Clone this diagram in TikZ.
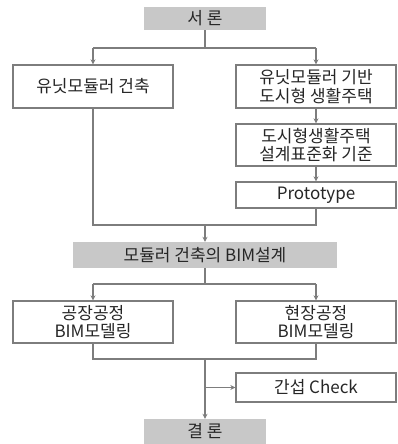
\documentclass[tikz,border=0pt]{standalone}
\usepackage{fontspec}
\setmainfont{Noto Sans CJK KR}
\usepackage{tikz}
\usetikzlibrary{positioning,arrows.meta}
\definecolor{boxgray}{RGB}{200,200,200}
\definecolor{linegray}{RGB}{125,125,125}
\tikzstyle{title}=[%
      rectangle, draw=none, fill=boxgray, text=black!85,
      minimum height=23pt, inner sep=1pt, align=center
]
\tikzstyle{box}=[%
      rectangle, draw=linegray, line width=1.3pt, fill=white, text=black!85,
      minimum width=160pt, inner sep=1pt, align=center
]
\tikzstyle{flow}=[%
      draw=linegray, line width=1.3pt
]

\begin{document}
\begin{tikzpicture}[x=1pt, y=-1pt,
    font=\fontsize{17}{18.5}\selectfont,
    >={Stealth[length=5pt,width=5pt]}
  ]
    \useasboundingbox (0,0) rectangle (397,444);

    \node[title, minimum width=122pt] (intro) at (205,18.5) {서 론};
    \node[box, minimum height=43pt] (unit) at (93,86.5) {유닛모듈러 건축};
    \node[box, minimum height=43pt] (base) at (316,86.5) {유닛모듈러 기반\\도시형 생활주택};
    \node[box, minimum height=42pt] (std) at (316,145) {도시형생활주택\\설계표준화 기준};
    \node[box, minimum height=26pt] (proto) at (316,195) {Prototype};
    \node[title, minimum width=264pt, minimum height=26pt] (bim) at (205,255) {모듈러 건축의 BIM설계};
    \node[box, minimum height=42pt] (factory) at (93,322) {공장공정\\BIM모델링};
    \node[box, minimum height=42pt] (site) at (316,322) {현장공정\\BIM모델링};
    \node[box, minimum height=29pt] (check) at (316,387.5) {간섭 Check};
    \node[title, minimum width=122pt, minimum height=25pt] (concl) at (205,431.5) {결 론};

    \coordinate (split1) at (205,48);
    \coordinate (merge1) at (205,225);
    \coordinate (split2) at (205,284);
    \coordinate (merge2) at (205,359);
    \coordinate (tap) at (205,387.5);

    % top split
    \path[flow] (intro) -- (split1)
          (unit.north |- split1) -- (base.north |- split1);
    \path[flow, ->] (unit.north |- split1) -- (unit);
    \path[flow, ->] (base.north |- split1) -- (base);
    \path[flow, ->] (base) -- (std);
    \path[flow, ->] (std) -- (proto);

    % merge into BIM design
    \path[flow] (unit) -- (unit.south |- merge1) -- (proto.south |- merge1) -- (proto);
    \path[flow, ->] (merge1) -- (bim);

    % second split
    \path[flow] (bim) -- (split2)
          (factory.north |- split2) -- (site.north |- split2);
    \path[flow, ->] (factory.north |- split2) -- (factory);
    \path[flow, ->] (site.north |- split2) -- (site);

    % merge into conclusion
    \path[flow] (factory) -- (factory.south |- merge2) -- (site.south |- merge2) -- (site);
    \path[flow, ->] (merge2) -- (concl);
    \path[flow, ->] (tap) -- (check);
  \end{tikzpicture}
\end{document}
